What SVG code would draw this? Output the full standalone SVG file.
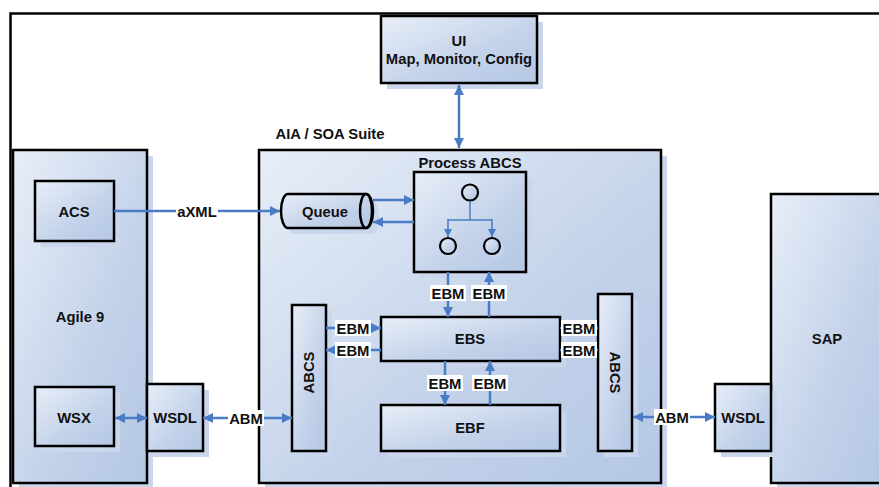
<svg xmlns="http://www.w3.org/2000/svg" width="879" height="487" viewBox="0 0 879 487">
<defs>
<linearGradient id="g" x1="0" y1="0" x2="1" y2="1">
<stop offset="0" stop-color="#e8eef7"/>
<stop offset="0.6" stop-color="#c3d2ea"/>
<stop offset="1" stop-color="#b5c7e4"/>
</linearGradient>
<marker id="ah" viewBox="0 0 10 10" refX="10" refY="5" markerWidth="10" markerHeight="10" markerUnits="userSpaceOnUse" orient="auto-start-reverse">
<path d="M0,0 L10,5 L0,10 Z" fill="#4a7cc5"/>
</marker>
<marker id="ahs" viewBox="0 0 10 10" refX="10" refY="5" markerWidth="8" markerHeight="8" markerUnits="userSpaceOnUse" orient="auto-start-reverse">
<path d="M0,0 L10,5 L0,10 Z" fill="#4a7cc5"/>
</marker>
</defs>
<style>
.box{fill:url(#g);stroke:#000;stroke-width:2.5}
.sh{fill:#c9d6ec}
.t{font-family:"Liberation Sans",Arial,sans-serif;font-weight:bold;font-size:14.8px;fill:#111;text-anchor:middle}
.c{fill:none;stroke:#4a7cc5;stroke-width:2.5}
.ct{fill:none;stroke:#4a7cc5;stroke-width:1.5}
.lb{fill:#fff}
.circ{fill:url(#g);stroke:#000;stroke-width:2.2}
</style>
<rect width="879" height="487" fill="#fff"/>
<path d="M10.5 487 L10.5 13.5 L879 13.5" fill="none" stroke="#000" stroke-width="2.5"/>

<g id="ui">
<rect class="sh" x="387" y="22" width="156" height="67"/>
<rect class="box" x="381" y="16" width="156" height="67"/>
<text class="t" x="459" y="45.5">UI</text>
<text class="t" x="459" y="63.5">Map, Monitor, Config</text>
</g>

<text class="t" x="330" y="138.5">AIA / SOA Suite</text>

<g id="agile">
<rect class="sh" x="19" y="156" width="134" height="333"/>
<rect class="box" x="13" y="150" width="134" height="333"/>
<text class="t" x="80" y="321.5">Agile 9</text>
</g>

<g id="aia">
<rect class="sh" x="265" y="156" width="402" height="333"/>
<rect class="box" x="259" y="150" width="402" height="333"/>
</g>

<g id="sap">
<rect class="sh" x="777" y="200" width="110" height="289"/>
<rect class="box" x="771" y="194" width="112" height="289"/>
<text class="t" x="827" y="343.5">SAP</text>
</g>

<g id="acs">
<rect class="sh" x="41" y="187" width="79" height="60"/>
<rect class="box" x="35" y="181" width="79" height="60"/>
<text class="t" x="74" y="216.5">ACS</text>
</g>

<g id="wsx">
<rect class="sh" x="41" y="393" width="79" height="59"/>
<rect class="box" x="35" y="387" width="79" height="59"/>
<text class="t" x="74" y="422.5">WSX</text>
</g>

<g id="wsdl-left">
<rect class="sh" x="153" y="390" width="56" height="67"/>
<rect class="box" x="147" y="384" width="56" height="67"/>
<text class="t" x="175" y="422.5">WSDL</text>
</g>

<g id="wsdl-right">
<rect class="sh" x="721" y="390" width="56" height="67"/>
<rect class="box" x="715" y="384" width="56" height="67"/>
<text class="t" x="743" y="422.5">WSDL</text>
</g>

<g id="queue">
<path class="sh" d="M294 200 L372 200 A7 17 0 0 1 372 234 L294 234 A7 17 0 0 1 294 200 Z"/>
<path class="box" d="M288 194 L366 194 A7 17 0 0 1 366 228 L288 228 A7 17 0 0 1 288 194 Z"/>
<ellipse cx="366" cy="211" rx="6" ry="17" fill="none" stroke="#000" stroke-width="2.5"/>
<text class="t" x="325" y="216.5">Queue</text>
</g>

<g id="process-abcs">
<rect class="sh" x="420" y="178" width="112" height="100"/>
<rect class="box" x="414" y="172" width="112" height="100"/>
<text class="t" x="470" y="168">Process ABCS</text>
<circle class="sh" cx="473" cy="196" r="8.5"/>
<circle class="circ" cx="470" cy="192.5" r="8"/>
<circle class="sh" cx="451" cy="249" r="8.5"/>
<circle class="circ" cx="448" cy="246" r="8"/>
<circle class="sh" cx="495" cy="249" r="8.5"/>
<circle class="circ" cx="492" cy="246" r="8"/>
</g>

<g id="ebs">
<rect class="sh" x="387" y="323" width="179" height="44"/>
<rect class="box" x="381" y="317" width="179" height="44"/>
<text class="t" x="470" y="343.5">EBS</text>
</g>

<g id="ebf">
<rect class="sh" x="387" y="411" width="179" height="46"/>
<rect class="box" x="381" y="405" width="179" height="46"/>
<text class="t" x="470" y="432.5">EBF</text>
</g>

<g id="abcs-left">
<rect class="sh" x="298" y="311" width="34" height="146"/>
<rect class="box" x="292" y="305" width="34" height="146"/>
<text class="t" transform="translate(314.4 372.5) rotate(-90)">ABCS</text>
</g>

<g id="abcs-right">
<rect class="sh" x="604" y="300" width="34" height="157"/>
<rect class="box" x="598" y="294" width="34" height="157"/>
<text class="t" transform="translate(609.8 372.5) rotate(90)">ABCS</text>
</g>

<g id="connectors">
<line class="c" x1="459" y1="85" x2="459" y2="148" marker-start="url(#ah)" marker-end="url(#ah)"/>
<line class="c" x1="114" y1="211" x2="280" y2="211" marker-end="url(#ah)"/>
<rect class="lb" x="176" y="203" width="42" height="16"/>
<text class="t" x="197" y="216.5">aXML</text>
<line class="c" x1="373" y1="200" x2="414" y2="200" marker-end="url(#ah)"/>
<line class="c" x1="414" y1="222" x2="373" y2="222" marker-end="url(#ah)"/>
<line class="ct" x1="470" y1="201" x2="470" y2="220"/>
<path class="ct" d="M448 220 L492 220"/>
<line class="ct" x1="448" y1="219" x2="448" y2="237" marker-end="url(#ahs)"/>
<line class="ct" x1="492" y1="219" x2="492" y2="237" marker-end="url(#ahs)"/>

<line class="c" x1="448" y1="272" x2="448" y2="317" marker-end="url(#ah)"/>
<line class="c" x1="489" y1="317" x2="489" y2="272" marker-end="url(#ah)"/>
<rect class="lb" x="430" y="285" width="36" height="16"/>
<text class="t" x="448" y="298.5">EBM</text>
<rect class="lb" x="471" y="285" width="36" height="16"/>
<text class="t" x="489" y="298.5">EBM</text>

<line class="c" x1="445" y1="361" x2="445" y2="405" marker-end="url(#ah)"/>
<line class="c" x1="490" y1="405" x2="490" y2="361" marker-end="url(#ah)"/>
<rect class="lb" x="427" y="375" width="36" height="16"/>
<text class="t" x="445" y="388.5">EBM</text>
<rect class="lb" x="472" y="375" width="36" height="16"/>
<text class="t" x="490" y="388.5">EBM</text>

<line class="c" x1="326" y1="328" x2="381" y2="328" marker-end="url(#ah)"/>
<line class="c" x1="381" y1="350" x2="326" y2="350" marker-end="url(#ah)"/>
<rect class="lb" x="335" y="320" width="36" height="16"/>
<text class="t" x="353" y="333.5">EBM</text>
<rect class="lb" x="335" y="342" width="36" height="16"/>
<text class="t" x="353" y="355.5">EBM</text>

<line class="c" x1="560" y1="328" x2="598" y2="328"/>
<line class="c" x1="560" y1="350" x2="598" y2="350"/>
<rect class="lb" x="561" y="320" width="36" height="16"/>
<text class="t" x="579" y="333.5">EBM</text>
<rect class="lb" x="561" y="342" width="36" height="16"/>
<text class="t" x="579" y="355.5">EBM</text>

<line class="c" x1="115" y1="418" x2="147" y2="418" marker-start="url(#ah)" marker-end="url(#ah)"/>
<line class="c" x1="203" y1="418" x2="292" y2="418" marker-start="url(#ah)" marker-end="url(#ah)"/>
<rect class="lb" x="228" y="410" width="36" height="16"/>
<text class="t" x="246" y="423.5">ABM</text>
<line class="c" x1="633" y1="417" x2="715" y2="417" marker-start="url(#ah)" marker-end="url(#ah)"/>
<rect class="lb" x="654" y="409" width="36" height="16"/>
<text class="t" x="672" y="422.5">ABM</text>
</g>
</svg>
